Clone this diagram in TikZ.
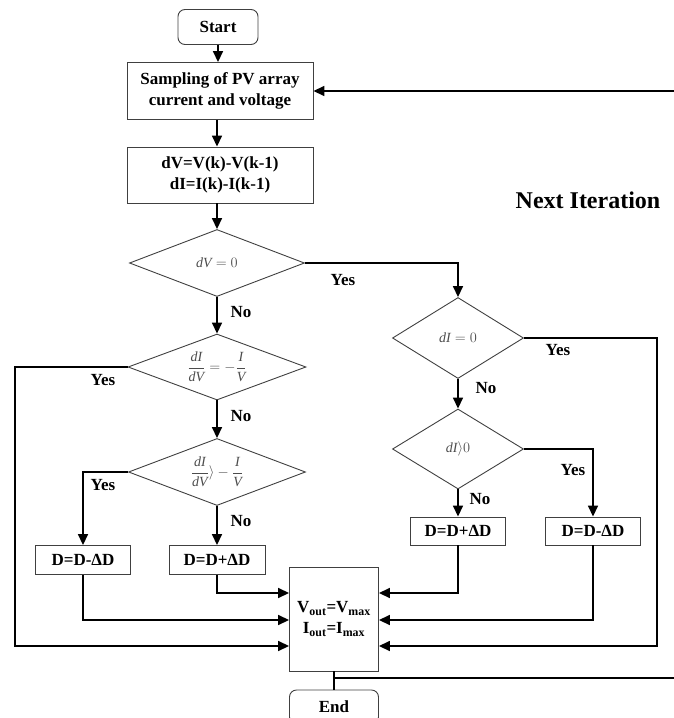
\documentclass[tikz,border=0pt]{standalone}
\usepackage{fontspec}
\setmainfont{Liberation Serif}
\usetikzlibrary{arrows.meta,shapes.geometric}
\begin{document}
\begin{tikzpicture}[x=1pt,y=-1pt,
  base/.style={draw=black!75, line width=0.9pt, inner sep=0pt, align=center,
    font=\bfseries\fontsize{17}{21}\selectfont},
  procbox/.style={base, rectangle},
  termbox/.style={base, rectangle, rounded corners=7pt},
  decbox/.style={base, diamond, font=\itshape\fontsize{14}{16}\selectfont, text=black!70},
  conn/.style={line width=1.6pt, -{Triangle[length=11pt,width=10pt]}},
  line/.style={line width=1.6pt},
  lab/.style={font=\bfseries\fontsize{17}{20}\selectfont, inner sep=0pt}]
\useasboundingbox (0,0) rectangle (673,718);

% left column
\node[termbox, minimum width=80, minimum height=35] (start) at (218,27) {Start};
\node[procbox, minimum width=186, minimum height=57] (samp) at (220,91) {Sampling of PV array\\current and voltage};
\node[procbox, minimum width=186, minimum height=56] (dv) at (220,175) {dV=V(k)-V(k-1)\\dI=I(k)-I(k-1)};
\node[decbox, shape aspect=2.6, minimum width=175, minimum height=67] (d1) at (217,263) {$\textit{dV}=0$};
\node[decbox, shape aspect=2.7, minimum width=178, minimum height=66] (d2) at (217,367) {$\displaystyle\frac{\textit{dI}}{\textit{dV}}=-\frac{\textit{I}}{\textit{V}}$};
\node[decbox, shape aspect=2.7, minimum width=177, minimum height=67] (d3) at (217,472) {$\displaystyle\frac{\textit{dI}}{\textit{dV}}\rangle-\frac{\textit{I}}{\textit{V}}$};
\node[procbox, minimum width=95, minimum height=29] (bL1) at (83,560) {D=D-ΔD};
\node[procbox, minimum width=96, minimum height=29] (bL2) at (217,560) {D=D+ΔD};

% right column
\node[decbox, shape aspect=1.6, minimum width=131, minimum height=81] (r1) at (458,338) {$\textit{dI}=0$};
\node[decbox, shape aspect=1.6, minimum width=131, minimum height=80] (r2) at (458,449) {$\textit{dI}\rangle 0$};
\node[procbox, minimum width=95, minimum height=28] (bR1) at (458,531) {D=D+ΔD};
\node[procbox, minimum width=95, minimum height=28] (bR2) at (593,531) {D=D-ΔD};

% output and end
\node[procbox, minimum width=89, minimum height=104] (out) at (334,619) {V\textsubscript{out}=V\textsubscript{max}\\I\textsubscript{out}=I\textsubscript{max}};
\node[termbox, minimum width=89, minimum height=34] (end) at (334,707) {End};

\node[font=\bfseries\fontsize{24}{28}\selectfont, inner sep=0pt] (next) at (588,200) {Next Iteration};

% labels
\node[lab] (y1) at (343,280) {Yes};
\node[lab] (n1) at (241,312) {No};
\node[lab] (y2) at (103,380) {Yes};
\node[lab] (n2) at (241,416) {No};
\node[lab] (y3) at (103,485) {Yes};
\node[lab] (n3) at (241,521) {No};
\node[lab] (y4) at (558,350) {Yes};
\node[lab] (n4) at (486,388) {No};
\node[lab] (y5) at (573,470) {Yes};
\node[lab] (n5) at (480,499) {No};

% connectors
\draw[conn] (start.south) -- (start.south |- samp.north);
\draw[conn] (samp.south -| d1.north) -- (dv.north -| d1.north);
\draw[conn] (dv.south -| d1.north) -- (d1.north);
\draw[conn] (d1.east) -| (r1.north);
\draw[conn] (d1.south) -- (d2.north);
\draw[conn] (d2.south) -- (d3.north);
\draw[conn] (d3.west) -| (bL1.north);
\draw[conn] (d3.south) -- (bL2.north);
\draw[conn] (d2.west) -- (15,367) |- ([yshift=-27pt]out.west);
\draw[conn] (bL1.south) |- ([yshift=-1pt]out.west);
\draw[conn] (bL2.south) |- ([yshift=26pt]out.west);

\draw[conn] (r1.south) -- (r2.north);
\draw[conn] (r2.south) -- (bR1.north);
\draw[conn] (r2.east) -| (bR2.north);
\draw[conn] (r1.east) -- (657,338) |- ([yshift=-27pt]out.east);
\draw[conn] (bR1.south) |- ([yshift=26pt]out.east);
\draw[conn] (bR2.south) |- ([yshift=-1pt]out.east);

\draw[line] (out.south) -- (end.north);
\draw[conn] (334,678) -- (680,678) -- (680,91) -- (samp.east);
\end{tikzpicture}
\end{document}
